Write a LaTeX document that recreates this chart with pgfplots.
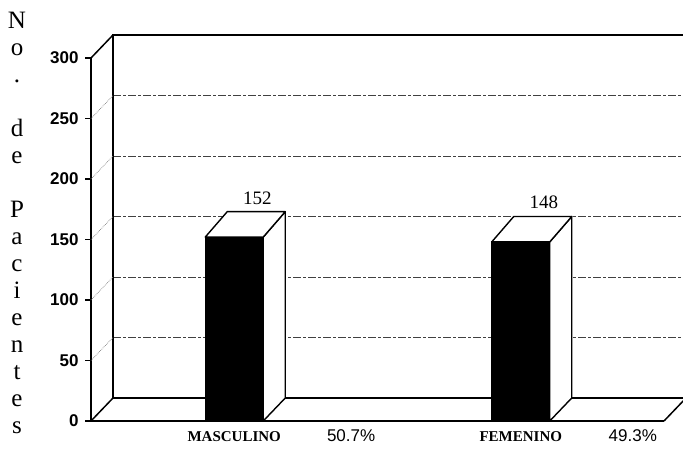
\documentclass[border=0pt]{standalone}
\usepackage{pgfplots}
\pgfplotsset{compat=1.18}
\usepackage{fontspec}
\setmainfont{Liberation Serif}
\setsansfont{Liberation Sans}
\begin{document}
\begin{tikzpicture}
% back wall
\begin{axis}[at={(113pt,51pt)}, anchor=south west, x=286.5pt, y=1.21pt,
  xmin=-0.5, xmax=1.5, ymin=0, ymax=300,
  xtick=\empty, ytick={50,100,150,200,250}, yticklabels={}, major tick length=0pt,
  ymajorgrids, grid style={black!75, line width=0.7pt, dash pattern=on 8pt off 2pt on 3pt off 2pt},
  axis line style={line width=1.5pt}]
\end{axis}
% front
\begin{axis}[at={(91pt,28pt)}, anchor=south west, x=286.5pt, y=1.21pt,
  xmin=-0.5, xmax=1.5, ymin=0, ymax=300,
  axis x line*=bottom, axis y line*=left, axis line style={line width=1.5pt},
  clip=false, tick align=outside,
  ytick={0,50,...,300}, major tick length=6pt, tick style={line width=1.2pt, black},
  yticklabel style={font=\sffamily\bfseries\fontsize{17}{20}\selectfont, xshift=-3pt},
  xtick={0,1}, xticklabels={MASCULINO,FEMENINO}, xtick style={draw=none},
  xticklabel style={font=\rmfamily\bfseries\fontsize{15}{17}\selectfont, anchor=base, yshift=-15pt, inner sep=1pt},
  extra x ticks={0.408,1.391}, extra x tick labels={50.7\%,49.3\%},
  extra x tick style={xtick style={draw=none}, xticklabel style={font=\sffamily\fontsize{17}{19}\selectfont}},
  /pgf/number format/assume math mode=true]
% side wall and floor edges
\draw[line width=1.5pt] (axis cs:-0.5,0) -- (axis cs:-0.4232,19);
\draw[line width=1.5pt] (axis cs:1.5,0) -- (axis cs:1.5768,19);
\draw[line width=1.5pt] (axis cs:-0.5,300) -- (axis cs:-0.4232,319);
\draw[black!50, line width=0.7pt, densely dotted] (axis cs:-0.5,50) -- (axis cs:-0.4232,69);
\draw[black!50, line width=0.7pt, densely dotted] (axis cs:-0.5,100) -- (axis cs:-0.4232,119);
\draw[black!50, line width=0.7pt, densely dotted] (axis cs:-0.5,150) -- (axis cs:-0.4232,169);
\draw[black!50, line width=0.7pt, densely dotted] (axis cs:-0.5,200) -- (axis cs:-0.4232,219);
\draw[black!50, line width=0.7pt, densely dotted] (axis cs:-0.5,250) -- (axis cs:-0.4232,269);
% bars
\addplot[ybar, bar width=0.2024, fill=black, draw=black, line width=1.2pt,
  nodes near coords,
  every node near coord/.append style={anchor=base, xshift=23pt, yshift=33pt, font=\rmfamily\fontsize{19}{21}\selectfont, text=black}]
  coordinates {(0,152) (1,148)};
% 3D faces of the bars
\addplot[fill=white, draw=black, line width=1.4pt, line join=round, mark=none]
  coordinates {(0.1012,0) (0.178,19) (0.178,173) (0.1012,152)} --cycle;
\addplot[fill=white, draw=black, line width=1.4pt, line join=round, mark=none]
  coordinates {(-0.1012,152) (-0.0244,173) (0.178,173) (0.1012,152)} --cycle;
\addplot[fill=white, draw=black, line width=1.4pt, line join=round, mark=none]
  coordinates {(1.1012,0) (1.178,19) (1.178,169) (1.1012,148)} --cycle;
\addplot[fill=white, draw=black, line width=1.4pt, line join=round, mark=none]
  coordinates {(0.8988,148) (0.9756,169) (1.178,169) (1.1012,148)} --cycle;
\end{axis}
\node[font=\rmfamily\fontsize{25}{27}\selectfont, align=center, anchor=center] at (17pt,226pt)
  {N\\o\\.\\[27pt]d\\e\\[27pt]P\\a\\c\\i\\e\\n\\t\\e\\s};
\pgfresetboundingbox
\path[use as bounding box] (0,0) rectangle (683pt,449pt);
\end{tikzpicture}
\end{document}
